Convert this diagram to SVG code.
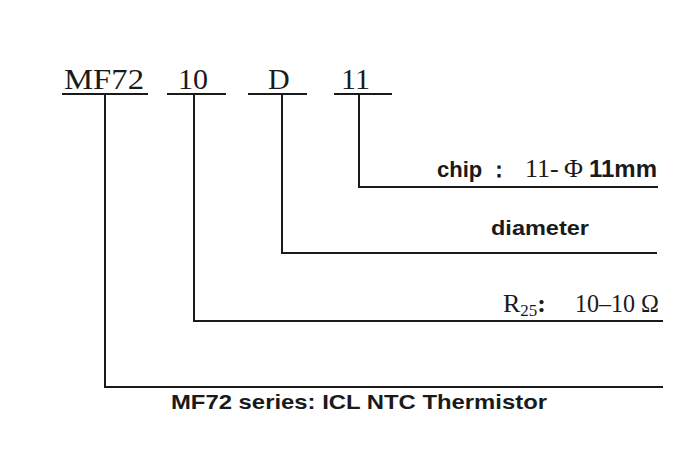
<svg xmlns="http://www.w3.org/2000/svg" width="680" height="470" viewBox="0 0 680 470">
<style>
.ln{stroke:#1a1a1a;stroke-width:2;fill:none;stroke-linecap:square}
.serif{font-family:"Liberation Serif","Times New Roman",serif;fill:#1a1a1a}
.sans{font-family:"Liberation Sans",Arial,sans-serif;fill:#1a1a1a}
.code{font-size:30px}
.lab{font-size:21px;font-weight:bold}
</style>
<rect width="680" height="470" fill="#ffffff"/>
<g id="code-mf72"><text class="serif code" x="64" y="89" textLength="80" lengthAdjust="spacingAndGlyphs">MF72</text><line class="ln" x1="63" y1="94" x2="147" y2="94"/></g>
<g id="code-10"><text class="serif code" x="178" y="89">10</text><line class="ln" x1="168" y1="94" x2="225" y2="94"/></g>
<g id="code-d"><text class="serif code" x="268" y="89">D</text><line class="ln" x1="249" y1="94" x2="306" y2="94"/></g>
<g id="code-11"><text class="serif code" x="341" y="89">11</text><line class="ln" x1="335" y1="94" x2="391" y2="94"/></g>
<g id="connectors">
<polyline class="ln" points="359,94 359,187 657,187"/>
<polyline class="ln" points="282,94 282,253 656,253"/>
<polyline class="ln" points="194,94 194,321 662,321"/>
<polyline class="ln" points="105,94 105,387 662,387"/>
</g>
<g id="label-chip"><text y="177"><tspan class="sans" font-size="22" font-weight="bold" x="437">chip ：</tspan><tspan class="serif" font-size="26" x="525">11-</tspan><tspan class="serif" font-size="26" x="564">Φ</tspan><tspan class="sans" font-size="24" font-weight="bold" x="589" textLength="68" lengthAdjust="spacingAndGlyphs">11mm</tspan></text></g>
<g id="label-diameter"><text class="sans lab" x="491" y="235" textLength="98" lengthAdjust="spacingAndGlyphs">diameter</text></g>
<g id="label-r25"><text class="serif" y="312" font-size="26"><tspan x="503">R</tspan><tspan font-size="17" dy="4">25</tspan><tspan dy="-4" font-weight="bold">:</tspan><tspan x="575" textLength="84" lengthAdjust="spacingAndGlyphs">10–10 Ω</tspan></text></g>
<g id="label-series"><text class="sans lab" x="171" y="409" textLength="376" lengthAdjust="spacingAndGlyphs">MF72 series: ICL NTC Thermistor</text></g>
</svg>
